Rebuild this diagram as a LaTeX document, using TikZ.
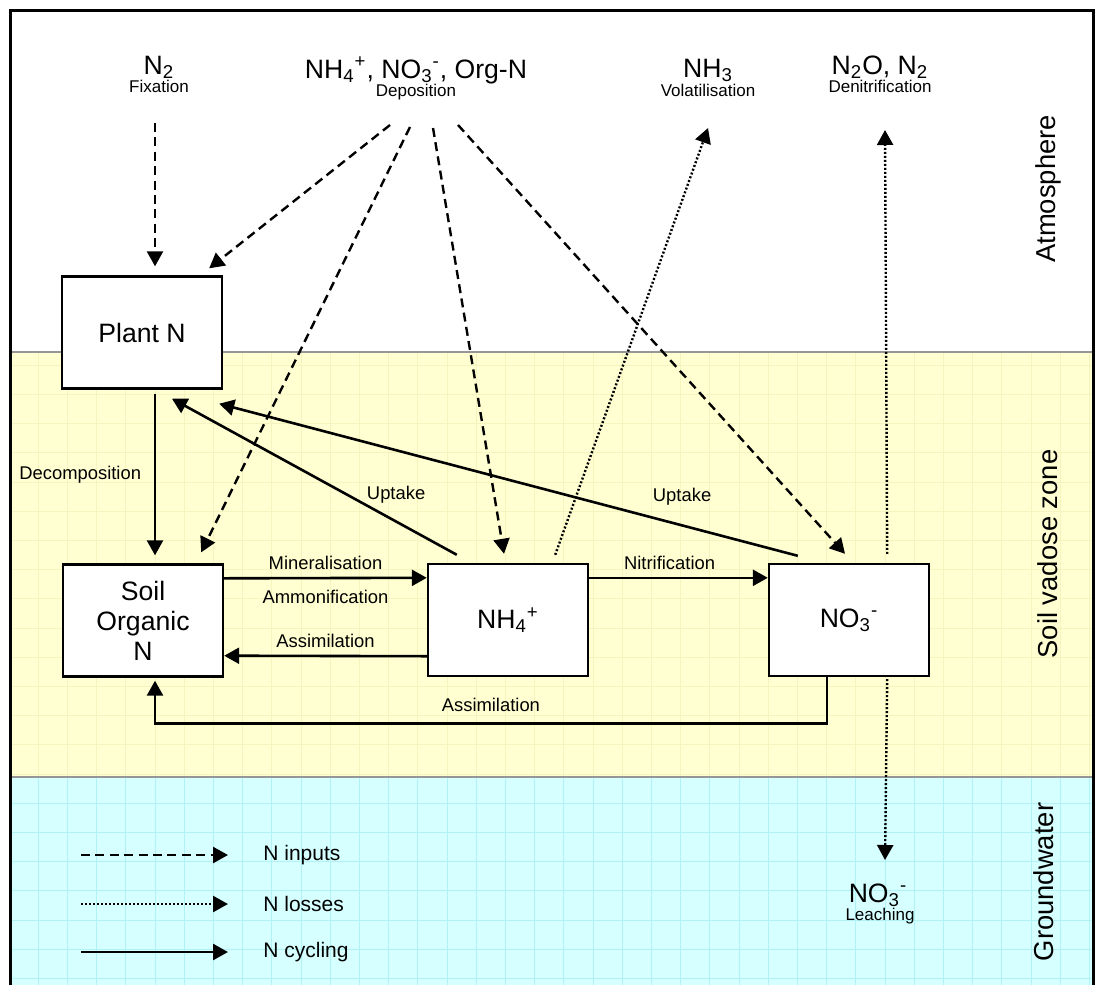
\documentclass[tikz,border=0pt]{standalone}
\usepackage{fontspec}
\setmainfont{Liberation Sans}
\usepackage{tikz}
\usetikzlibrary{arrows.meta, positioning, calc}

\definecolor{soilyellow}{RGB}{255,255,210}
\definecolor{soilgrid}{RGB}{244,244,190}
\definecolor{gwcyan}{RGB}{214,255,255}
\definecolor{gwgrid}{RGB}{176,242,246}
\definecolor{zoneline}{RGB}{150,150,150}

\begin{document}
\begin{tikzpicture}[x=0.5pt, y=-0.5pt,
	pool/.style={rectangle, draw=black, line width=1.2pt, fill=white, minimum width=80pt, minimum height=56pt, inner sep=0pt, font=\fontsize{13.3}{15}\selectfont, align=center},
	species/.style={font=\fontsize{13.3}{15}\selectfont, inner sep=0pt, anchor=base},
	process/.style={font=\fontsize{8.5}{10}\selectfont, inner sep=0pt, anchor=base},
	flowlab/.style={font=\fontsize{9.2}{11}\selectfont},
	zone/.style={font=\fontsize{13.7}{16}\selectfont, rotate=90},
	legtext/.style={font=\fontsize{10.5}{12}\selectfont, anchor=west, inner sep=0pt},
	inarrow/.style={line width=1.2pt, dash pattern=on 4.5pt off 2.7pt, -{Triangle[length=7.5pt, width=8pt]}},
	lossarrow/.style={line width=1.2pt, dash pattern=on 1pt off 1pt, -{Triangle[length=7.5pt, width=8pt]}},
	cyclearrow/.style={line width=1.3pt, -{Triangle[length=7.5pt, width=8pt]}}
]
\useasboundingbox (0,0) rectangle (1095,985);

% Zones
\fill[soilyellow] (10,352) rectangle (1093,777);
\fill[gwcyan] (10,777) rectangle (1093,985);
\begin{scope}
	\clip (10,352) rectangle (1093,777);
	\foreach \gx in {0,...,37} \draw[soilgrid, line width=0.3pt] (8.8+\gx*29.2,352) -- (8.8+\gx*29.2,777);
	\foreach \gy in {11,...,26} \draw[soilgrid, line width=0.3pt] (10,14.6+\gy*29.2) -- (1093,14.6+\gy*29.2);
\end{scope}
\begin{scope}
	\clip (10,777) rectangle (1093,985);
	\foreach \gx in {0,...,37} \draw[gwgrid, line width=0.3pt] (8.8+\gx*29.2,777) -- (8.8+\gx*29.2,985);
	\foreach \gy in {26,...,33} \draw[gwgrid, line width=0.3pt] (10,14.6+\gy*29.2) -- (1093,14.6+\gy*29.2);
\end{scope}
\draw[zoneline, line width=1.1pt] (10,352) -- (1093,352);
\draw[zoneline, line width=1.1pt] (10,777) -- (1093,777);
\draw[line width=1.5pt] (10,985) -- (10,10) -- (1093,10) -- (1093,985);

\node[zone] (atm) at (1048,189) {Atmosphere};
\node[zone] (vad) at (1048,554) {Soil vadose zone};
\node[zone] (gw) at (1044,882) {Groundwater};

% Sources and sinks
\node[species] (n2) at (159,74) {N\textsubscript{2}};
\node[process] (fixlab) at (159,92) {Fixation};
\node[species] (dep) at (416,78) {NH\textsubscript{4}\textsuperscript{+}, NO\textsubscript{3}\textsuperscript{-}, Org-N};
\node[process] (deplab) at (416,96) {Deposition};
\node[species] (nh3) at (708,77) {NH\textsubscript{3}};
\node[process] (vollab) at (708,96) {Volatilisation};
\node[species] (n2o) at (880,74) {N\textsubscript{2}O, N\textsubscript{2}};
\node[process] (denlab) at (880,92) {Denitrification};
\node[species] (no3gw) at (878,902) {NO\textsubscript{3}\textsuperscript{-}};
\node[process] (leachlab) at (880,920) {Leaching};

% Pools
\node[pool] (plant) at (142,332.5) {Plant N};
\node[pool] (som) at (143,620.5) {Soil\\Organic\\N};
\node[pool] (nh4) at (508,620) {NH\textsubscript{4}\textsuperscript{+}};
\node[pool] (no3) at (849,620) {NO\textsubscript{3}\textsuperscript{-}};

% Inputs
\coordinate (fixS) at (155,123);
\coordinate (dep1) at (390,125);
\coordinate (dep2) at (410,127);
\coordinate (dep3) at (433,128);
\coordinate (dep4) at (458,125);
\draw[inarrow] (fixS) -- ($(fixS |- plant.north)+(0,-9)$);
\draw[inarrow] (dep1) -- ($(plant.north east)+(-14,-7)$);
\draw[inarrow] (dep2) -- ($(som.north east)+(-23,-11)$);
\draw[inarrow] (dep3) -- ($(nh4.north)+(-4,-9)$);
\draw[inarrow] (dep4) -- ($(no3.north)+(-4,-9)$);

% Losses
\coordinate (volend) at (708,128);
\coordinate (denend) at (885,130);
\coordinate (leachend) at (885,860);
\draw[lossarrow] ($(nh4.north east)+(-34,-8)$) -- (volend);
\draw[lossarrow] ($(no3.north east)+(-43,-9)$) -- (denend);
\draw[lossarrow] ($(no3.south east)+(-43,2)$) -- (leachend);

% Cycling
\draw[cyclearrow] ($(plant.south)+(13,4)$) -- ($(som.north)+(12,-8)$)
	node[flowlab, midway, left=3pt] {Decomposition};
\draw[cyclearrow] ($(nh4.north west)+(30,-8)$) -- ($(plant.south)+(30,9)$)
	node[flowlab, pos=0.32, anchor=south west, inner sep=0pt] {Uptake};
\draw[cyclearrow] ($(no3.north west)+(30,-7)$) -- ($(plant.south east)+(-4,14)$)
	node[flowlab, pos=0.2, above=6pt] {Uptake};
\draw[cyclearrow] ($(som.north east)+(0,15)$) -- ($(nh4.north west)+(0,15)$)
	node[flowlab, midway, above] {Mineralisation}
	node[flowlab, midway, below=2pt] {Ammonification};
\draw[cyclearrow] ($(nh4.south west)+(0,-21)$) -- ($(som.south east)+(0,-22)$)
	node[flowlab, midway, above] {Assimilation};
\draw[cyclearrow] ($(nh4.north east)+(0,15)$) -- ($(no3.north west)+(0,15)$)
	node[flowlab, pos=0.45, above] {Nitrification};
\draw[cyclearrow] ($(no3.south west)+(59,0)$) |- node[flowlab, pos=0.75, above=2pt] {Assimilation}
	($(som.south)+(12,46)$) -- ($(som.south)+(12,3)$);

% Legend
\node[legtext] (intxt) at (263,855) {N inputs};
\node[legtext] (losstxt) at (263,904) {N losses};
\node[legtext] (cyctxt) at (263,952) {N cycling};
\coordinate (legin) at (81,855);
\coordinate (legloss) at (81,904);
\coordinate (legcyc) at (81,952);
\draw[inarrow] (legin) -- ($(intxt.west)+(-35,0)$);
\draw[lossarrow] (legloss) -- ($(losstxt.west)+(-35,0)$);
\draw[cyclearrow] (legcyc) -- ($(cyctxt.west)+(-35,0)$);

\end{tikzpicture}
\end{document}
